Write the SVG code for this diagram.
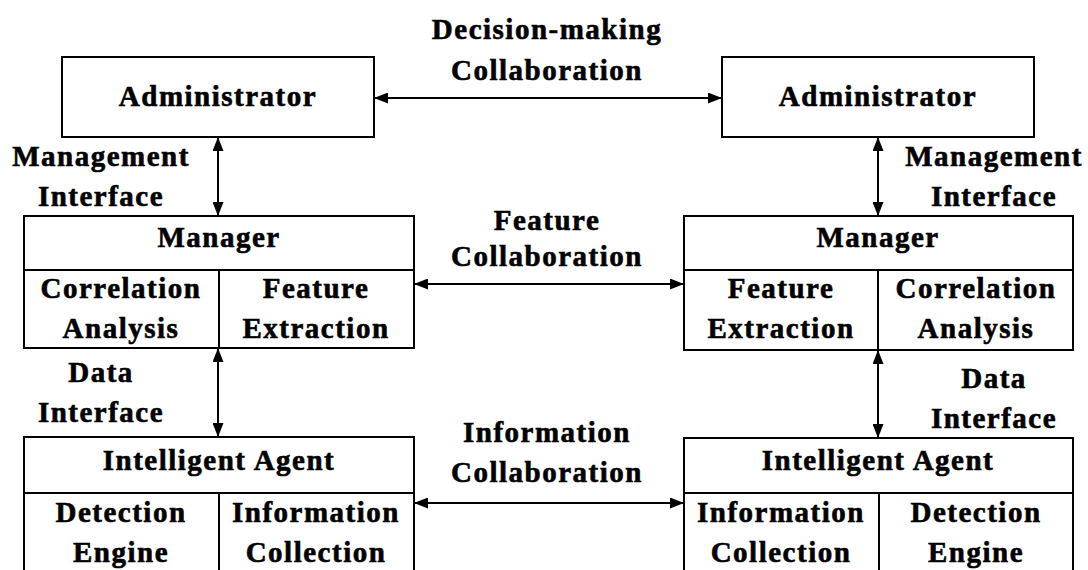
<svg xmlns="http://www.w3.org/2000/svg" width="1088" height="570" viewBox="0 0 1088 570">
  <style>
    .box { fill: #ffffff; stroke: #000000; stroke-width: 2; }
    .div { stroke: #000000; stroke-width: 2; fill: none; }
    .conn { stroke: #000000; stroke-width: 2; fill: none; marker-start: url(#head); marker-end: url(#head); }
    text { font-family: "Liberation Serif", "Times New Roman", serif; font-weight: bold; font-size: 29px; letter-spacing: 1.5px; fill: #000000; stroke: #000000; stroke-width: 0.6; text-anchor: middle; }
  </style>
  <defs>
    <marker id="head" viewBox="0 0 14 11" refX="14" refY="5.5" markerWidth="14" markerHeight="11" markerUnits="userSpaceOnUse" orient="auto-start-reverse">
      <path d="M0,0 L14,5.5 L0,11 z" fill="#000000"/>
    </marker>
  </defs>
  <rect width="1088" height="570" fill="#ffffff"/>

  <!-- Left column -->
  <g id="admin-left">
    <rect class="box" x="62" y="57" width="312" height="80"/>
    <text x="218" y="106">Administrator</text>
  </g>
  <g id="manager-left">
    <rect class="box" x="24" y="216" width="390" height="132"/>
    <line class="div" x1="24" y1="270" x2="414" y2="270"/>
    <line class="div" x1="219" y1="270" x2="219" y2="348"/>
    <text x="219" y="247">Manager</text>
    <text x="121" y="298">Correlation</text>
    <text x="121" y="338">Analysis</text>
    <text x="316" y="298">Feature</text>
    <text x="316" y="338">Extraction</text>
  </g>
  <g id="agent-left">
    <rect class="box" x="24" y="437" width="390" height="160"/>
    <line class="div" x1="24" y1="493" x2="414" y2="493"/>
    <line class="div" x1="219" y1="493" x2="219" y2="597"/>
    <text x="219" y="470">Intelligent Agent</text>
    <text x="121" y="522">Detection</text>
    <text x="121" y="562">Engine</text>
    <text x="316" y="522">Information</text>
    <text x="316" y="562">Collection</text>
  </g>

  <!-- Right column -->
  <g id="admin-right">
    <rect class="box" x="722" y="57" width="312" height="80"/>
    <text x="878" y="106">Administrator</text>
  </g>
  <g id="manager-right">
    <rect class="box" x="684" y="216" width="389" height="134"/>
    <line class="div" x1="684" y1="270" x2="1073" y2="270"/>
    <line class="div" x1="878" y1="270" x2="878" y2="350"/>
    <text x="878" y="247">Manager</text>
    <text x="781" y="298">Feature</text>
    <text x="781" y="338">Extraction</text>
    <text x="976" y="298">Correlation</text>
    <text x="976" y="338">Analysis</text>
  </g>
  <g id="agent-right">
    <rect class="box" x="684" y="438" width="389" height="160"/>
    <line class="div" x1="684" y1="493" x2="1073" y2="493"/>
    <line class="div" x1="879" y1="493" x2="879" y2="598"/>
    <text x="878" y="470">Intelligent Agent</text>
    <text x="781" y="522">Information</text>
    <text x="781" y="562">Collection</text>
    <text x="976" y="522">Detection</text>
    <text x="976" y="562">Engine</text>
  </g>

  <!-- Connectors -->
  <g id="connectors">
    <line class="conn" x1="374" y1="98" x2="722" y2="98"/>
    <line class="conn" x1="414" y1="284" x2="684" y2="284"/>
    <line class="conn" x1="414" y1="503" x2="684" y2="503"/>
    <line class="conn" x1="218" y1="137" x2="218" y2="216"/>
    <line class="conn" x1="218" y1="348" x2="218" y2="437"/>
    <line class="conn" x1="878" y1="137" x2="878" y2="216"/>
    <line class="conn" x1="878" y1="350" x2="878" y2="438"/>
  </g>

  <!-- Connector labels -->
  <g id="labels">
    <text x="547" y="39">Decision-making</text>
    <text x="547" y="80">Collaboration</text>
    <text x="547" y="230">Feature</text>
    <text x="547" y="266">Collaboration</text>
    <text x="547" y="442">Information</text>
    <text x="547" y="482">Collaboration</text>
    <text x="101" y="166">Management</text>
    <text x="101" y="206">Interface</text>
    <text x="101" y="382">Data</text>
    <text x="101" y="422">Interface</text>
    <text x="994" y="166">Management</text>
    <text x="994" y="206">Interface</text>
    <text x="994" y="388">Data</text>
    <text x="994" y="428">Interface</text>
  </g>
</svg>
